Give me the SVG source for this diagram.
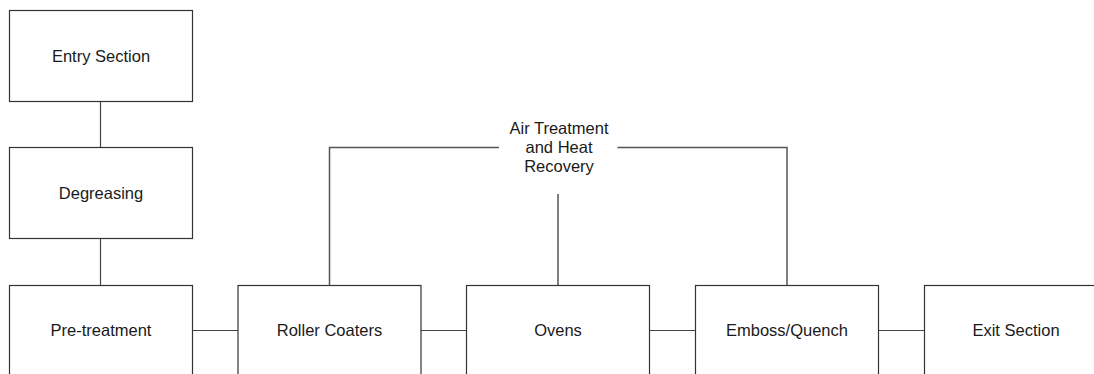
<svg xmlns="http://www.w3.org/2000/svg" width="1094" height="374" viewBox="0 0 1094 374">
  <style>
    .box { fill: #ffffff; stroke: #333333; stroke-width: 1.2; }
    .lbl { font-family: "Liberation Sans", Arial, sans-serif; font-size: 16.5px; fill: #1a1a1a; text-anchor: middle; }
    .wire { fill: none; stroke: #444444; stroke-width: 1.2; }
    .wire2 { fill: none; stroke: #555555; stroke-width: 1.5; }
  </style>
  <rect width="1094" height="374" fill="#ffffff"/>

  <!-- connectors -->
  <g id="connectors">
    <line class="wire" x1="100.5" y1="101.5" x2="100.5" y2="147.5"/>
    <line class="wire" x1="100.5" y1="238.5" x2="100.5" y2="285.5"/>
    <line class="wire" x1="192.5" y1="330.5" x2="238" y2="330.5"/>
    <line class="wire" x1="421" y1="330.5" x2="466.5" y2="330.5"/>
    <line class="wire" x1="649.5" y1="330.5" x2="695.5" y2="330.5"/>
    <line class="wire" x1="878.5" y1="330.5" x2="924.5" y2="330.5"/>
    <!-- air treatment bracket -->
    <polyline class="wire2" points="329.5,285.5 329.5,147.5 499,147.5"/>
    <polyline class="wire2" points="617.5,147.5 787,147.5 787,285.5"/>
    <line class="wire2" x1="558" y1="194" x2="558" y2="285.5"/>
  </g>

  <g id="entry-section">
    <rect class="box" x="9.5" y="10.5" width="183" height="91"/>
    <text class="lbl" x="101" y="61.5">Entry Section</text>
  </g>
  <g id="degreasing">
    <rect class="box" x="9.5" y="147.5" width="183" height="91"/>
    <text class="lbl" x="101" y="199">Degreasing</text>
  </g>
  <g id="pre-treatment">
    <rect class="box" x="9.5" y="285.5" width="183" height="91"/>
    <text class="lbl" x="101" y="336">Pre-treatment</text>
  </g>
  <g id="roller-coaters">
    <rect class="box" x="238" y="285.5" width="183" height="91"/>
    <text class="lbl" x="329.5" y="336">Roller Coaters</text>
  </g>
  <g id="ovens">
    <rect class="box" x="466.5" y="285.5" width="183" height="91"/>
    <text class="lbl" x="558" y="336">Ovens</text>
  </g>
  <g id="emboss-quench">
    <rect class="box" x="695.5" y="285.5" width="183" height="91"/>
    <text class="lbl" x="787" y="336">Emboss/Quench</text>
  </g>
  <g id="exit-section">
    <rect class="box" x="924.5" y="285.5" width="183" height="91"/>
    <text class="lbl" x="1016" y="336">Exit Section</text>
  </g>
  <g id="air-treatment">
    <text class="lbl" x="559" y="134">Air Treatment</text>
    <text class="lbl" x="559" y="153">and Heat</text>
    <text class="lbl" x="559" y="172">Recovery</text>
  </g>
</svg>
